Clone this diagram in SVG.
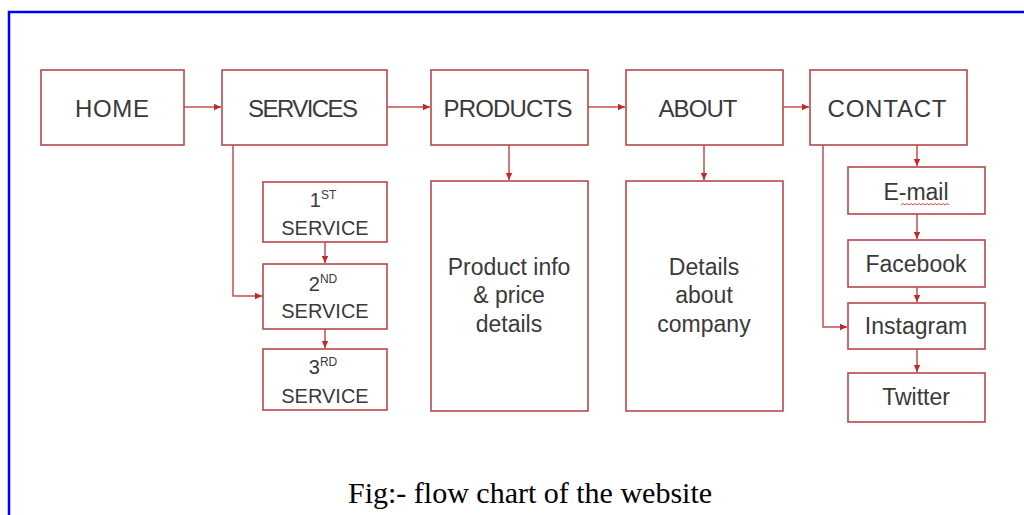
<svg xmlns="http://www.w3.org/2000/svg" width="1024" height="515" viewBox="0 0 1024 515">
<style>
.box{fill:#fff;stroke:#b8474a;stroke-width:1.6}
.lbl{font-family:"Liberation Sans",Arial,sans-serif;fill:#3a3a3a;text-anchor:middle}
.top{font-size:24px}
.sub{font-size:20px}
.mid{font-size:23px}
.sup{font-size:12px}
.con{fill:none;stroke:#c0504d;stroke-width:1.5}
.cap{font-family:"Liberation Serif","Times New Roman",serif;font-size:30px;fill:#000}
</style>
<defs>
<marker id="ah" markerWidth="8" markerHeight="8" refX="7" refY="4" orient="auto" markerUnits="userSpaceOnUse">
<path d="M0,0.8 L7,4 L0,7.2 Z" fill="#c0282a"/>
</marker>
</defs>
<rect x="9" y="12" width="1030" height="530" fill="none" stroke="#0000ff" stroke-width="2.5"/>
<g id="connectors">
<path class="con" d="M184,107 H221" marker-end="url(#ah)"/>
<path class="con" d="M387,107 H430" marker-end="url(#ah)"/>
<path class="con" d="M588,107 H625" marker-end="url(#ah)"/>
<path class="con" d="M783,107 H809" marker-end="url(#ah)"/>
<path class="con" d="M233,145 V296 H262" marker-end="url(#ah)"/>
<path class="con" d="M325,242 V263" marker-end="url(#ah)"/>
<path class="con" d="M325,329 V348" marker-end="url(#ah)"/>
<path class="con" d="M509,145 V180" marker-end="url(#ah)"/>
<path class="con" d="M704,145 V180" marker-end="url(#ah)"/>
<path class="con" d="M917,145 V166" marker-end="url(#ah)"/>
<path class="con" d="M917,214 V239" marker-end="url(#ah)"/>
<path class="con" d="M917,287 V302" marker-end="url(#ah)"/>
<path class="con" d="M917,349 V372" marker-end="url(#ah)"/>
<path class="con" d="M823,145 V327 H847" marker-end="url(#ah)"/>
</g>
<g id="home"><rect class="box" x="41" y="70" width="143" height="75"/><text class="lbl top" x="112" y="117" textLength="74">HOME</text></g>
<g id="services"><rect class="box" x="222" y="70" width="165" height="75"/><text class="lbl top" x="303" y="117" textLength="110">SERVICES</text></g>
<g id="products"><rect class="box" x="431" y="70" width="157" height="75"/><text class="lbl top" x="508" y="117" textLength="129">PRODUCTS</text></g>
<g id="about"><rect class="box" x="626" y="70" width="157" height="75"/><text class="lbl top" x="698" y="117" textLength="79">ABOUT</text></g>
<g id="contact"><rect class="box" x="810" y="70" width="157" height="75"/><text class="lbl top" x="887" y="117" textLength="119">CONTACT</text></g>
<g id="service1"><rect class="box" x="263" y="182" width="124" height="60"/>
<text class="lbl sub" x="323" y="207">1<tspan class="sup" dy="-8">ST</tspan></text>
<text class="lbl sub" x="325" y="235">SERVICE</text></g>
<g id="service2"><rect class="box" x="263" y="264" width="124" height="65"/>
<text class="lbl sub" x="323" y="291">2<tspan class="sup" dy="-8">ND</tspan></text>
<text class="lbl sub" x="325" y="318">SERVICE</text></g>
<g id="service3"><rect class="box" x="263" y="349" width="124" height="61"/>
<text class="lbl sub" x="323" y="374">3<tspan class="sup" dy="-8">RD</tspan></text>
<text class="lbl sub" x="325" y="403">SERVICE</text></g>
<g id="product-details"><rect class="box" x="431" y="181" width="157" height="230"/>
<text class="lbl mid" x="509" y="275">Product info</text>
<text class="lbl mid" x="509" y="303">&amp; price</text>
<text class="lbl mid" x="509" y="332">details</text></g>
<g id="about-details"><rect class="box" x="626" y="181" width="157" height="230"/>
<text class="lbl mid" x="704" y="275">Details</text>
<text class="lbl mid" x="704" y="303">about</text>
<text class="lbl mid" x="704" y="332">company</text></g>
<g id="email"><rect class="box" x="848" y="167" width="137" height="47"/>
<text class="lbl mid" x="916" y="200">E-mail</text>
<path d="M901,205 l2,-1.5 l2,1.5 l2,-1.5 l2,1.5 l2,-1.5 l2,1.5 l2,-1.5 l2,1.5 l2,-1.5 l2,1.5 l2,-1.5 l2,1.5 l2,-1.5 l2,1.5 l2,-1.5 l2,1.5 l2,-1.5 l2,1.5 l2,-1.5 l2,1.5 l2,-1.5 l2,1.5 l2,-1.5 l2,1.5" fill="none" stroke="#e03030" stroke-width="0.9"/></g>
<g id="facebook"><rect class="box" x="848" y="240" width="137" height="47"/>
<text class="lbl mid" x="916" y="272">Facebook</text></g>
<g id="instagram"><rect class="box" x="848" y="303" width="137" height="46"/>
<text class="lbl mid" x="916" y="334">Instagram</text></g>
<g id="twitter"><rect class="box" x="848" y="373" width="137" height="49"/>
<text class="lbl mid" x="916" y="405">Twitter</text></g>
<text class="cap" x="348" y="503">Fig:- flow chart of the website</text>
</svg>
